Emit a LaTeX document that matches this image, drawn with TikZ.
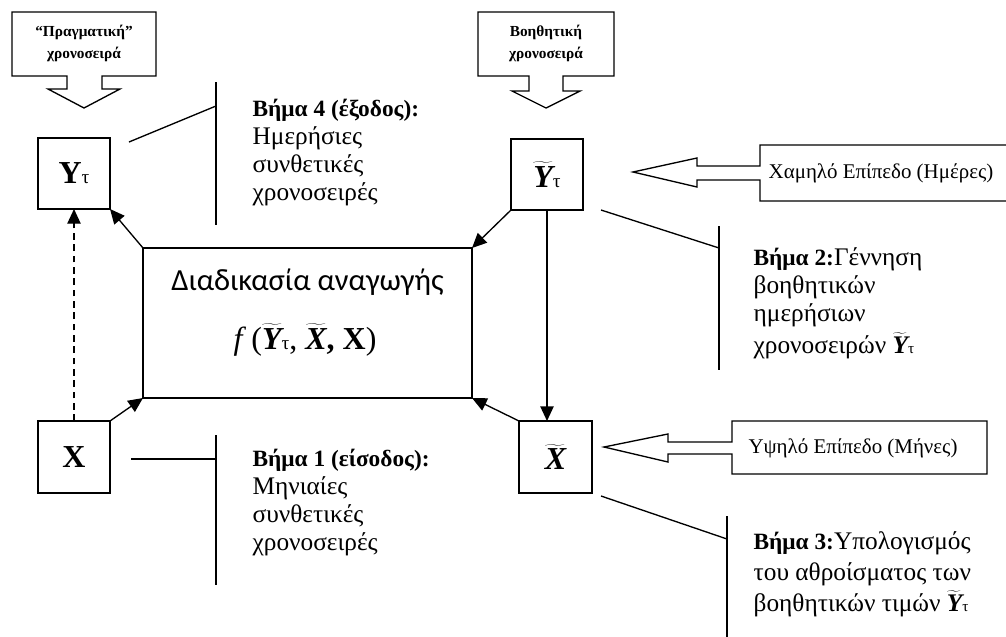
\documentclass[tikz,border=0pt]{standalone}
\usepackage{fontspec}
\setmainfont{Liberation Serif}
\newfontfamily\sansgr{Carlito}
\usepackage{graphicx}
\usetikzlibrary{arrows.meta}
\newcommand\tl[1]{$\widetilde{\hbox{\bfseries\itshape #1}}$}
\newcommand\ttau{\scalebox{0.6}{τ}}
\newcommand\bstep[1]{{\fontsize{17.5}{21}\selectfont\bfseries #1}}
\begin{document}
\begin{tikzpicture}[x=0.75pt,y=-0.75pt,line width=1pt,
  box/.style={draw,inner sep=0pt,outer sep=0pt,line width=1pt},
  arr/.style={-{Triangle[length=11pt,width=10pt]},line width=1pt},
  lead/.style={line width=1pt},
  steptext/.style={anchor=base west,align=left,inner sep=0pt,font=\fontsize{19}{20.8}\selectfont},
  calltext/.style={align=center,inner sep=0pt,font=\fontsize{11.5}{16.5}\selectfont\bfseries},
  lvltext/.style={inner sep=0pt,font=\fontsize{15.7}{18}\selectfont},
  lbl/.style={font=\fontsize{24}{28}\selectfont}]
\useasboundingbox (0,0) rectangle (1006,636);
% boxes
\node[box,lbl,minimum width=54pt,minimum height=53.25pt] (Y) at (74,173.5) {\textbf{Y}\ttau};
\node[box,lbl,minimum width=54pt,minimum height=53.25pt] (Yt) at (547,174.5) {\tl{Y}\ttau};
\node[box,lbl,minimum width=54pt,minimum height=54pt] (X) at (74,457) {\textbf{X}};
\node[box,lbl,minimum width=54.75pt,minimum height=54pt] (Xt) at (555.5,457) {\tl{X}};
\node[box,minimum width=246.75pt,minimum height=112.5pt] (M) at (307.5,323) {};
\node[font=\sansgr\fontsize{23}{28}\selectfont,anchor=base] (Mt1) at (307.5,290) {Διαδικασία αναγωγής};
\node[font=\fontsize{24}{28}\selectfont,anchor=base] (Mt2) at (305,349) {\textit{f}\,(\tl{Y}\ttau, \tl{X}\textbf{, X})};
% connectors
\draw[arr] (M.north west) -- (Y.south east);
\draw[arr] (Yt.south west) -- (M.north east);
\draw[arr] (X.north east) -- (M.south west);
\draw[arr] (Xt.north west) -- (M.south east);
\draw[arr] (Yt.south) -- (Yt.south |- Xt.north);
\draw[arr,dashed,dash pattern=on 5pt off 3.5pt] (X.north) -- (Y.south);
% top callouts
\draw (12,12) -- (156,12) -- (156,76) -- (102,76) -- (102,89) -- (120,89) -- (84,108) -- (48,89) -- (67,89) -- (67,76) -- (12,76) -- cycle;
\node[calltext] (c1) at (84,43) {“Πραγματική”\\χρονοσειρά};
\draw (478,12) -- (614,12) -- (614,76) -- (563,76) -- (563,91) -- (580,91) -- (546,108) -- (512,91) -- (529,91) -- (529,76) -- (478,76) -- cycle;
\node[calltext] (c2) at (546,43) {Βοηθητική\\χρονοσειρά};
% level callouts
\draw (760,145) -- (1010,145) -- (1010,201) -- (760,201) -- (760,180) -- (697,180) -- (697,187) -- (633,172) -- (697,158) -- (697,166) -- (760,166) -- cycle;
\node[lvltext] (l1) at (881,173) {Χαμηλό Επίπεδο (Ημέρες)};
\draw (732,421) -- (987,421) -- (987,474) -- (732,474) -- (732,454) -- (668,454) -- (668,462) -- (604,447) -- (668,434) -- (668,442) -- (732,442) -- cycle;
\node[lvltext] (l2) at (853,448) {Υψηλό Επίπεδο (Μήνες)};
% step leaders
\draw[lead] (129,142) -- (216,106);
\draw[lead] (216,82) -- (216,225);
\draw[lead] (601,210) -- (719,248);
\draw[lead] (719,226) -- (719,370);
\draw[lead] (601,496) -- (727,539);
\draw[lead] (727,516) -- (727,640);
\draw[lead] (131,459) -- (216,459);
\draw[lead] (216,435) -- (216,585);
% step texts (anchor = baseline of last line)
\node[steptext] (s4) at (252,200) {\bstep{Βήμα 4 (έξοδος):}\\Ημερήσιες\\συνθετικές\\χρονοσειρές};
\node[steptext] (s1) at (252,550) {\bstep{Βήμα 1 (είσοδος):}\\Μηνιαίες\\συνθετικές\\χρονοσειρές};
\node[steptext] (s2) at (753,353) {\bstep{Βήμα 2:}Γέννηση\\βοηθητικών\\ημερήσιων\\[3pt]χρονοσειρών \tl{Y}\ttau};
\node[steptext,font=\fontsize{19}{23}\selectfont] (s3) at (753,611) {\bstep{Βήμα 3:}Υπολογισμός\\του αθροίσματος των\\βοηθητικών τιμών \tl{Y}\ttau};
\end{tikzpicture}
\end{document}
